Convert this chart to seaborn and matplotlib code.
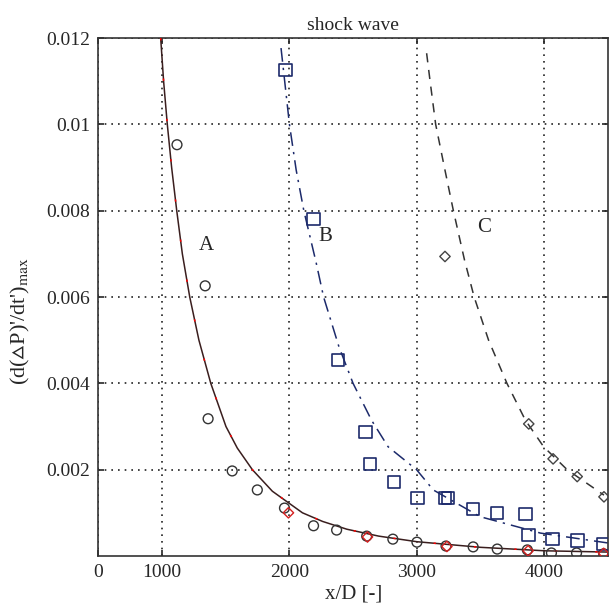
import numpy as np
import pandas as pd
import matplotlib
matplotlib.use("Agg")
import matplotlib.pyplot as plt
import seaborn as sns

# fitted curves
curve_a_x = [990, 1013, 1042, 1076, 1116, 1160, 1218, 1290, 1383, 1502, 1591, 1709, 1866, 2102, 2260,
             2450, 2700, 3000, 3500, 4000, 4500]
curve_a_y = [0.012, 0.0110, 0.010, 0.0090, 0.008, 0.0070, 0.006, 0.005, 0.004, 0.003, 0.0025, 0.002,
             0.0015, 0.0010, 0.0008, 0.00062, 0.00046, 0.00033, 0.00020, 0.00012, 0.00009]
curve_b_x = [1934, 2000, 2053, 2113, 2210, 2268, 2388, 2499, 2643, 2774, 2997, 3128, 3496, 3969, 4500]
curve_b_y = [0.01177, 0.010, 0.00894, 0.008, 0.00679, 0.006, 0.00485, 0.004, 0.00315, 0.00253, 0.002,
             0.00153, 0.00091, 0.00053, 0.00030]
curve_c_x = [3076, 3102, 3147, 3220, 3286, 3373, 3449, 3562, 3706, 3850, 3994, 4178, 4467]
curve_c_y = [0.01165, 0.01103, 0.010, 0.00894, 0.008, 0.00686, 0.006, 0.005, 0.004, 0.00315, 0.00253,
             0.002, 0.00141]

# measured points
a_x = [1118, 1339, 1362, 1551, 1748, 1961, 2189, 2370, 2606, 2811, 3000, 3228, 3441, 3630, 3866, 4055, 4252, 4465]
a_y = [0.00953, 0.00626, 0.00318, 0.00197, 0.00153, 0.00111, 0.00070, 0.00060, 0.00046, 0.00039, 0.00032,
       0.00023, 0.00021, 0.00016, 0.00014, 0.00007, 0.00007, 0.00005]
ar_x = [1992, 2612, 3235, 3872, 4465]
ar_y = [0.00100, 0.00044, 0.00022, 0.00012, 0.00006]
b_x = [1969, 2189, 2380, 2598, 2630, 2821, 3003, 3220, 3245, 3441, 3630, 3850, 3874, 4063, 4260, 4465]
b_y = [0.01126, 0.00781, 0.00454, 0.00287, 0.00213, 0.00172, 0.00134, 0.00134, 0.00134, 0.00109, 0.00099,
       0.00097, 0.00049, 0.00039, 0.00036, 0.00028]
c_x = [3220, 3877, 4068, 4257, 4467]
c_y = [0.00694, 0.00306, 0.00225, 0.00184, 0.00137]

sns.set_style("ticks")
plt.rcParams['font.family'] = ['Liberation Serif', 'DejaVu Serif']
plt.rcParams['mathtext.fontset'] = 'stix'

fig = plt.figure(figsize=(6.1, 6.15), dpi=100)
ax = fig.add_axes([0.161, 0.096, 0.836, 0.842])

dfa = pd.DataFrame({'x': curve_a_x, 'y': curve_a_y})
dfb = pd.DataFrame({'x': curve_b_x, 'y': curve_b_y})
dfc = pd.DataFrame({'x': curve_c_x, 'y': curve_c_y})

# curve A: dark line with a red line peeking through
sns.lineplot(data=dfa, x='x', y='y', ax=ax, color='#3a1e1e', lw=1.1, sort=False, estimator=None)
ax.lines[-1].set_zorder(3)
sns.lineplot(data=dfa, x='x', y='y', ax=ax, color='red', lw=1.1, sort=False, estimator=None)
ax.lines[-1].set_dashes((1.5, 25))
ax.lines[-1].set_zorder(4)
sns.lineplot(data=dfb, x='x', y='y', ax=ax, color='#1c2a6b', lw=1.1, sort=False, estimator=None)
ax.lines[-1].set_dashes((9, 4, 1.5, 4))
sns.lineplot(data=dfc, x='x', y='y', ax=ax, color='#333333', lw=1.1, sort=False, estimator=None)
ax.lines[-1].set_dashes((6, 5))

sns.scatterplot(x=a_x, y=a_y, ax=ax, marker='o', s=50, facecolor='none', edgecolor='#333333', linewidth=1.0, zorder=5)
sns.scatterplot(x=ar_x, y=ar_y, ax=ax, marker='D', s=28, facecolor='none', edgecolor='#d42020', linewidth=1.0, zorder=6)
sns.scatterplot(x=b_x, y=b_y, ax=ax, marker='s', s=80, facecolor='none', edgecolor='#1c2a6b', linewidth=1.2, zorder=5)
sns.scatterplot(x=c_x, y=c_y, ax=ax, marker='D', s=28, facecolor='none', edgecolor='#444444', linewidth=1.0, zorder=5)

ax.text(1290, 0.0071, 'A', fontsize=15)
ax.text(2224, 0.0073, 'B', fontsize=15)
ax.text(3471, 0.0075, 'C', fontsize=15)

ax.set_xlim(500, 4500)
ax.set_ylim(0, 0.012)
ax.set_xticks([500, 1000, 2000, 3000, 4000])
ax.set_xticklabels(['0', '1000', '2000', '3000', '4000'])
ax.set_yticks([0.002, 0.004, 0.006, 0.008, 0.01, 0.012])
ax.set_yticklabels(['0.002', '0.004', '0.006', '0.008', '0.01', '0.012'])
ax.tick_params(direction='in', top=True, right=True, labelsize=14, length=4, width=1.2, pad=6)
ax.grid(True, color='#222222', linestyle=(0, (1, 3)), lw=1.2)
for sp in ax.spines.values():
    sp.set_color('#333333')
    sp.set_linewidth(1.2)

ax.set_title('shock wave', fontsize=14, pad=6)
ax.set_xlabel('x/D [-]', fontsize=15, labelpad=2)
ax.set_ylabel(r"(d($\vartriangle$P)'/dt')$_{\mathrm{max}}$", fontsize=16)
ax.yaxis.set_label_coords(-0.129, 0.454)

fig.savefig('out.png', dpi=100)
